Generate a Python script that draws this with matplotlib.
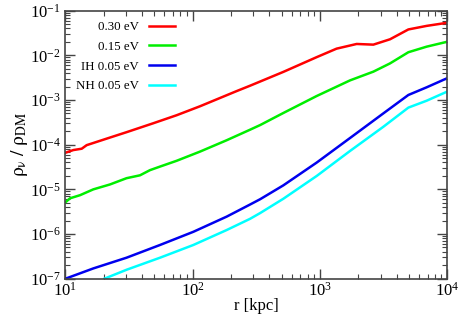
import matplotlib

matplotlib.use("Agg")

import numpy as np  # noqa: E402
from matplotlib import pyplot as plt  # noqa: E402
from matplotlib.ticker import LogLocator, NullFormatter  # noqa: E402

# log10(r / kpc) and log10(rho_nu / rho_DM)
red_logr = [1.0, 1.062, 1.128, 1.167, 1.35, 1.48, 1.69, 1.874, 2.057, 2.345, 2.45, 2.712,
            2.974, 3.13, 3.288, 3.419, 3.55, 3.694, 3.838, 4.0]
red_logrho = [-4.18, -4.12, -4.09, -4.01, -3.84, -3.72, -3.52, -3.34, -3.14, -2.80, -2.68, -2.37,
              -2.04, -1.85, -1.745, -1.76, -1.64, -1.42, -1.34, -1.27]

green_logr = [1.0, 1.036, 1.115, 1.219, 1.35, 1.48, 1.586, 1.664, 1.743, 1.874, 2.057, 2.267,
              2.45, 2.53, 2.712, 2.974, 3.236, 3.419, 3.55, 3.694, 3.838, 4.0]
green_logrho = [-5.29, -5.20, -5.13, -5.00, -4.89, -4.75, -4.685, -4.57, -4.49, -4.36, -4.155, -3.90,
                -3.665, -3.56, -3.29, -2.91, -2.56, -2.365, -2.18, -1.93, -1.805, -1.695]

ih_logr = [1.0, 1.219, 1.48, 1.743, 2.005, 2.267, 2.45, 2.53, 2.712, 2.974, 3.236, 3.497,
           3.694, 3.838, 4.0]
ih_logrho = [-7.0, -6.77, -6.53, -6.245, -5.95, -5.61, -5.34, -5.22, -4.91, -4.40, -3.85, -3.30,
             -2.887, -2.715, -2.51]

nh_logr = [1.306, 1.48, 1.743, 2.005, 2.267, 2.45, 2.53, 2.712, 2.974, 3.236, 3.497, 3.694,
           3.838, 4.0]
nh_logrho = [-7.0, -6.80, -6.53, -6.245, -5.91, -5.66, -5.53, -5.21, -4.70, -4.14, -3.60, -3.17,
             -3.015, -2.81]

series = [
    ("0.30 eV", red_logr, red_logrho, "#ff0000"),
    ("0.15 eV", green_logr, green_logrho, "#00ee00"),
    ("IH 0.05 eV", ih_logr, ih_logrho, "#0000ee"),
    ("NH 0.05 eV", nh_logr, nh_logrho, "#00ffff"),
]

plt.rcParams["font.family"] = ["Liberation Serif", "DejaVu Serif"]
plt.rcParams["mathtext.fontset"] = "stix"

fig = plt.figure(figsize=(4.63, 3.24), dpi=100)
ax = fig.add_axes([0.1413, 0.1398, 0.8248, 0.8272])

for label, lr, lrho, color in series:
    ax.plot(10 ** np.array(lr), 10 ** np.array(lrho), color=color, lw=1.8, label=label,
            solid_joinstyle="round")

ax.set_xscale("log")
ax.set_yscale("log")
ax.set_xlim(10, 1e4)
ax.set_ylim(1e-7, 1e-1)

ax.xaxis.set_minor_locator(LogLocator(base=10, subs=np.arange(2, 10)))
ax.yaxis.set_minor_locator(LogLocator(base=10, subs=np.arange(2, 10)))
ax.xaxis.set_minor_formatter(NullFormatter())
ax.yaxis.set_minor_formatter(NullFormatter())

ax.tick_params(which="both", direction="in", top=True, right=True, colors="#444444",
               labelcolor="black", labelsize=12)
ax.tick_params(which="major", length=7, width=1.0)
ax.tick_params(axis="x", which="major", pad=2)
ax.tick_params(which="minor", length=3.5, width=0.8)
for side in ax.spines.values():
    side.set_color("#444444")
    side.set_linewidth(1.2)

ax.set_xlabel("r [kpc]", fontsize=12, labelpad=-1)
ax.set_ylabel(r"$\mathrm{\rho_\nu\ /\ \rho_{DM}}$", fontsize=14, labelpad=0)

ax.legend(loc="upper left", bbox_to_anchor=(0.0, 1.0), frameon=False, markerfirst=False,
          fontsize=9.3, handlelength=2.0, handletextpad=0.8, labelspacing=0.6,
          borderaxespad=0.4)

fig.savefig("out.png", dpi=100)
